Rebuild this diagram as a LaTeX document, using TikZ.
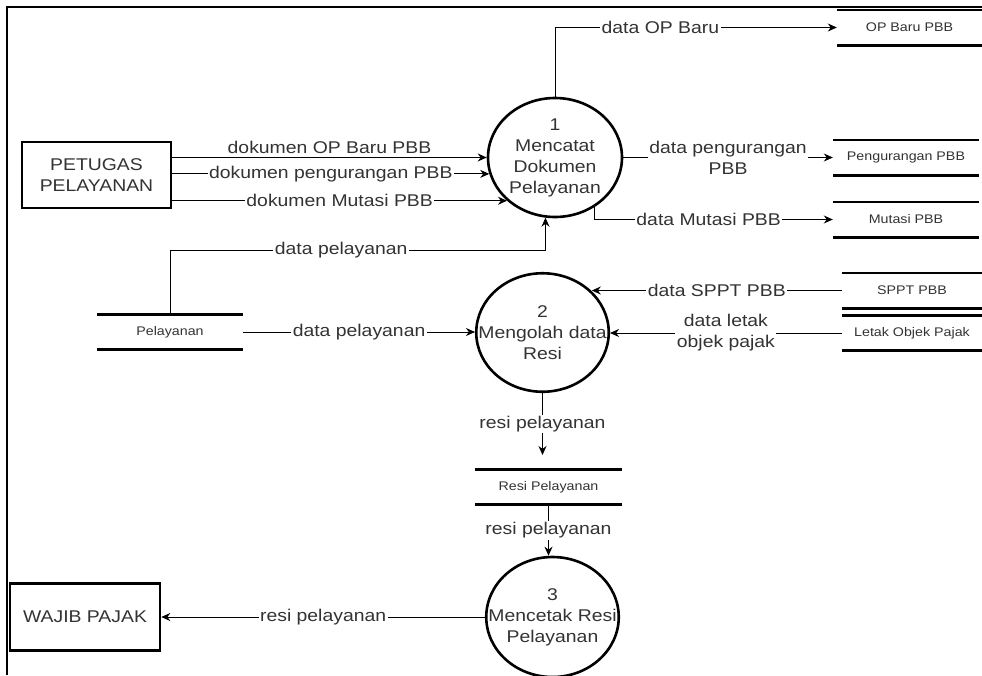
\documentclass[tikz,border=0pt]{standalone}
\usepackage{fontspec}
\setmainfont{Liberation Sans}[FakeStretch=1.14]
\usetikzlibrary{arrows.meta,shapes.geometric}
\definecolor{ink}{HTML}{333333}

\begin{document}
\begin{tikzpicture}[x=1pt,y=-1pt,
  font=\fontsize{17}{21}\selectfont,
  every node/.style={text=ink},
  flow/.style={draw=black, line width=0.9pt, -{Stealth[length=9pt,width=8pt]}},
  lbl/.style={fill=white, inner sep=1.5pt, align=center},
  process/.style={ellipse, draw=black, line width=2.6pt, inner sep=0pt},
  ptext/.style={align=center, inner sep=0pt},
  entity/.style={rectangle, draw=black, line width=2.6pt, align=center},
  store/.style={inner sep=0pt, minimum height=35pt, font=\fontsize{12.5}{15}\selectfont},
  storeline/.style={line width=2.6pt},
  frame/.style={line width=1.6pt}
]
\useasboundingbox (0,0) rectangle (982,675);

% outer frame
\draw[frame] (7,675) -- (7,7) -- (982,7);

% external entities
\node[entity, minimum width=149pt, minimum height=66pt] (petugas) at (96.5,175) {PETUGAS\\PELAYANAN};
\node[entity, minimum width=150pt, minimum height=67pt] (wajib) at (85,617) {WAJIB PAJAK};

% processes: outline first, caption on top (the captions run to the outline)
\node[process, minimum width=134pt, minimum height=119pt] (c1) at (555,157.5) {};
\node[ptext] (c1t) at (c1.center) {1\\Mencatat\\Dokumen\\Pelayanan};
\node[process, minimum width=132.5pt, minimum height=118.5pt] (c2) at (542.5,332.5) {};
\node[ptext] (c2t) at (c2.center) {2\\Mengolah data\\Resi};
\node[process, minimum width=132.5pt, minimum height=120pt] (c3) at (552.5,617) {};
\node[ptext] (c3t) at (c3.center) {3\\Mencetak Resi\\Pelayanan};

% data stores
\node[store, minimum width=145pt] (opbaru) at (909.5,27.5) {OP Baru PBB};
\node[store, minimum width=146pt] (pengurangan) at (906,157.5) {Pengurangan PBB};
\node[store, minimum width=146pt] (mutasi) at (906,219.5) {Mutasi PBB};
\node[store, minimum width=140pt] (sppt) at (912,290.5) {SPPT PBB};
\node[store, minimum width=140pt] (letak) at (912,333) {Letak Objek Pajak};
\node[store, minimum width=146pt] (pelayanan) at (170,332) {Pelayanan};
\node[store, minimum width=147pt] (resi) at (548.5,487) {Resi Pelayanan};

\foreach \s in {opbaru,pengurangan,mutasi,sppt,letak,pelayanan,resi}{
  \draw[storeline] (\s.north west) -- (\s.north east) (\s.south west) -- (\s.south east);
}

% helper levels
\coordinate (lvl) at (0,250);
\coordinate (resitop) at (542.5,455);

% flows into process 1
\draw[flow] (petugas.east |- c1.west) -- (c1.west) node[midway, above] {dokumen OP Baru PBB};
\draw[flow] (petugas.east |- c1.194) -- (c1.194) node[lbl, midway] {dokumen pengurangan PBB};
\draw[flow] (petugas.east |- c1.222) -- (c1.222) node[lbl, midway] {dokumen Mutasi PBB};
\draw[flow] (pelayanan.north) -- (pelayanan.north |- lvl) -| (c1.261) node[lbl, pos=0.228] {data pelayanan};

% flows out of process 1
\draw[flow] (c1.north) |- (opbaru.west) node[lbl, pos=0.687] {data OP Baru};
\draw[flow] (c1.east) -- (c1.east -| pengurangan.west) node[lbl, midway] {data pengurangan\\PBB};
\draw[flow] (c1.-52) |- (mutasi.west) node[lbl, pos=0.74] {data Mutasi PBB};

% flows of process 2
\draw[flow] (pelayanan.east) -- (pelayanan.east -| c2.west) node[lbl, midway] {data pelayanan};
\draw[flow] (sppt.west) -- (sppt.west -| c2.40) node[lbl, midway] {data SPPT PBB};
\draw[flow] (letak.west) -- (letak.west -| c2.east) node[lbl, midway] {data letak\\objek pajak};
\draw[flow] (c2.south) -- (c2.south |- resitop) node[lbl, midway] {resi pelayanan};

% flows of process 3
\draw[flow] (resi.south) -- (resi.south |- c3.north) node[lbl, midway] {resi pelayanan};
\draw[flow] (c3.west) -- (c3.west -| wajib.east) node[lbl, midway] {resi pelayanan};

\end{tikzpicture}
\end{document}
